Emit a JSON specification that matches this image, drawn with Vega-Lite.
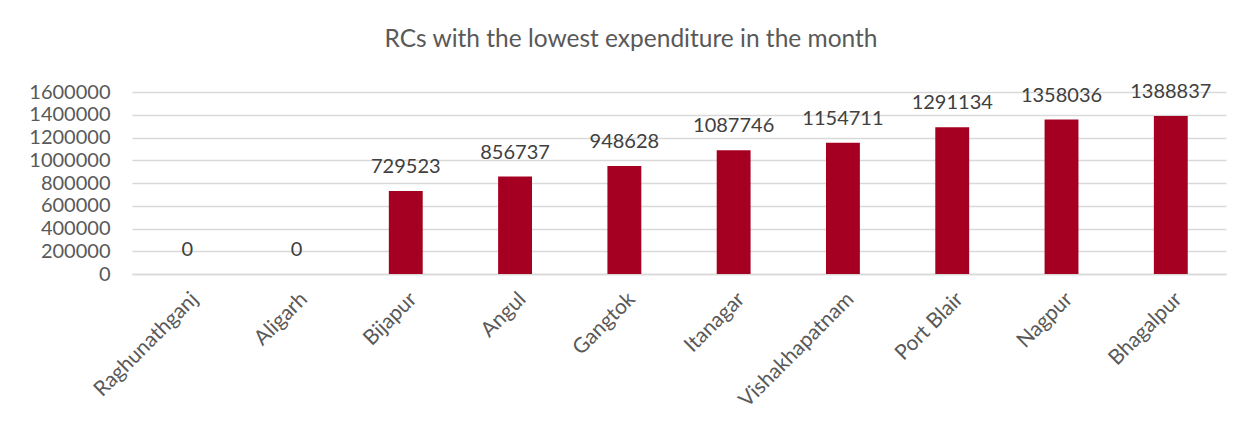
{
  "$schema": "https://vega.github.io/schema/vega-lite/v6.json",
  "autosize": {"type": "none"},
  "width": 1094,
  "height": 182,
  "padding": {"left": 132, "top": 92, "right": 24, "bottom": 164},
  "background": "white",
  "title": {
    "text": "RCs with the lowest expenditure in the month",
    "font": "Lato",
    "fontSize": 24.5,
    "fontWeight": "normal",
    "color": "#595959",
    "anchor": "middle",
    "dx": -48,
    "offset": 30
  },
  "data": {
    "values": [
      {"rc": "Raghunathganj", "value": 0},
      {"rc": "Aligarh", "value": 0},
      {"rc": "Bijapur", "value": 729523},
      {"rc": "Angul", "value": 856737},
      {"rc": "Gangtok", "value": 948628},
      {"rc": "Itanagar", "value": 1087746},
      {"rc": "Vishakhapatnam", "value": 1154711},
      {"rc": "Port Blair", "value": 1291134},
      {"rc": "Nagpur", "value": 1358036},
      {"rc": "Bhagalpur", "value": 1388837}
    ]
  },
  "encoding": {
    "x": {
      "field": "rc",
      "type": "nominal",
      "sort": null,
      "scale": {"paddingInner": 0.69, "paddingOuter": 0.35},
      "axis": {
        "title": null,
        "labelAngle": -45,
        "labelFont": "Lato",
        "labelFontSize": 21,
        "labelColor": "#595959",
        "labelPadding": 14,
        "ticks": false,
        "domainColor": "#D9D9D9",
        "domainWidth": 1.5
      }
    },
    "y": {
      "field": "value",
      "type": "quantitative",
      "scale": {"domain": [0, 1600000], "nice": false},
      "axis": {
        "title": null,
        "values": [0, 200000, 400000, 600000, 800000, 1000000, 1200000, 1400000, 1600000],
        "format": "d",
        "labelFont": "Lato",
        "labelFontSize": 20,
        "labelColor": "#595959",
        "labelPadding": 22,
        "labelOverlap": false,
        "ticks": false,
        "domain": false,
        "gridColor": "#D9D9D9",
        "gridWidth": 1.3
      }
    }
  },
  "layer": [
    {"mark": {"type": "bar", "color": "#A50021"}},
    {
      "mark": {
        "type": "text",
        "baseline": "alphabetic",
        "dy": -18,
        "font": "Lato",
        "fontSize": 20,
        "color": "#404040"
      },
      "encoding": {"text": {"field": "value", "type": "quantitative", "format": "d"}}
    }
  ],
  "config": {"view": {"stroke": null}}
}
